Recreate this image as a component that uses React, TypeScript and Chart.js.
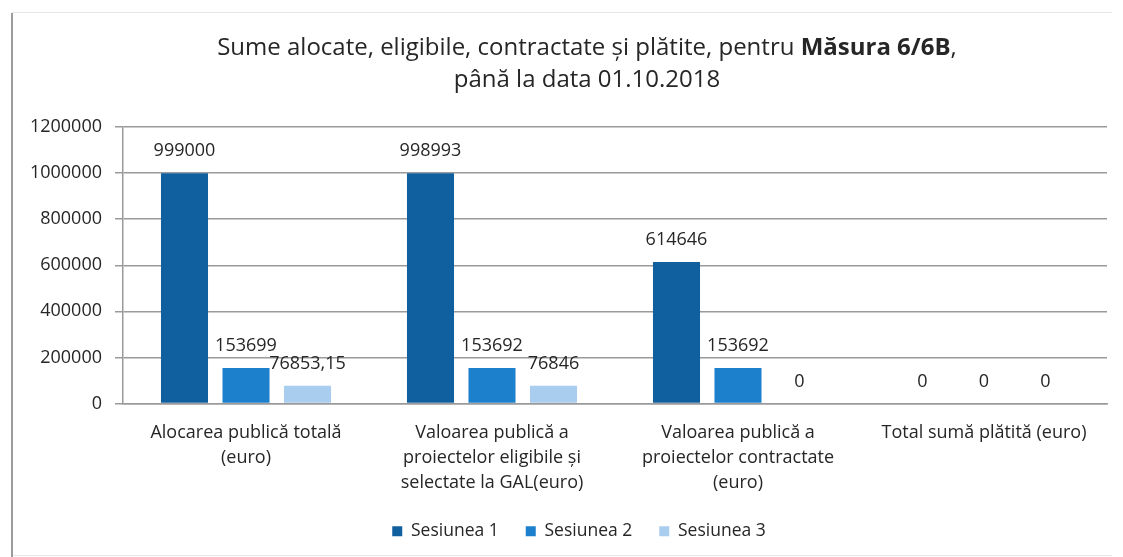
import React, { useEffect, useRef } from 'react';
import { Chart, registerables } from 'chart.js';

Chart.register(...registerables);

const categories: string[][] = [
  ['Alocarea publică totală', '(euro)'],
  ['Valoarea publică a', 'proiectelor eligibile și', 'selectate la GAL(euro)'],
  ['Valoarea publică a', 'proiectelor contractate', '(euro)'],
  ['Total sumă plătită (euro)'],
];
const seriesNames = ['Sesiunea 1', 'Sesiunea 2', 'Sesiunea 3'];
const sesiunea1 = [999000, 998993, 614646, 0];
const sesiunea2 = [153699, 153692, 153692, 0];
const sesiunea3 = [76853.15, 76846, 0, 0];
const yMin = 0;
const yMax = 1200000;
const yStep = 200000;
const titleNormal1 = 'Sume alocate, eligibile, contractate și plătite, pentru ';
const titleBold = 'Măsura 6/6B';
const titleNormal2 = ',';
const titleLine2 = 'până la data 01.10.2018';

const colors = ['#105f9f', '#1d80cc', '#a9cdee'];
const FONT = "'Open Sans', sans-serif";
const TEXT = '#262626';
const GRID = '#9a9a9a';

const fmt = (v: number) => String(v).replace('.', ',');

const framePlugin = {
  id: 'frame',
  beforeDraw(chart: any) {
    const ctx = chart.ctx;
    ctx.save();
    ctx.fillStyle = '#ffffff';
    ctx.fillRect(0, 0, chart.width, chart.height);
    ctx.strokeStyle = '#e6e6e6';
    ctx.lineWidth = 1;
    ctx.beginPath();
    ctx.moveTo(12, 12.5);
    ctx.lineTo(1112, 12.5);
    ctx.moveTo(12, 555.5);
    ctx.lineTo(1112, 555.5);
    ctx.stroke();
    ctx.strokeStyle = '#9c9c9c';
    ctx.lineWidth = 2;
    ctx.beginPath();
    ctx.moveTo(12, 13);
    ctx.lineTo(12, 557);
    ctx.stroke();
    ctx.restore();
  },
};

const titlePlugin = {
  id: 'mixedTitle',
  afterDraw(chart: any) {
    const ctx = chart.ctx;
    const cx = 587;
    const size = 24;
    ctx.save();
    ctx.fillStyle = TEXT;
    ctx.textBaseline = 'middle';
    ctx.textAlign = 'left';
    const nFont = `normal ${size}px ${FONT}`;
    const bFont = `bold ${size}px ${FONT}`;
    ctx.font = nFont;
    const w1 = ctx.measureText(titleNormal1).width;
    const w3 = ctx.measureText(titleNormal2).width;
    ctx.font = bFont;
    const w2 = ctx.measureText(titleBold).width;
    let x = cx - (w1 + w2 + w3) / 2;
    const y1 = 48;
    ctx.font = nFont;
    ctx.fillText(titleNormal1, x, y1);
    x += w1;
    ctx.font = bFont;
    ctx.fillText(titleBold, x, y1);
    x += w2;
    ctx.font = nFont;
    ctx.fillText(titleNormal2, x, y1);
    ctx.textAlign = 'center';
    ctx.fillText(titleLine2, cx, 80);
    ctx.restore();
  },
};

const valueLabelPlugin = {
  id: 'valueLabels',
  afterDatasetsDraw(chart: any) {
    const ctx = chart.ctx;
    ctx.save();
    ctx.fillStyle = TEXT;
    ctx.font = `normal 18px ${FONT}`;
    ctx.textAlign = 'center';
    ctx.textBaseline = 'middle';
    chart.data.datasets.forEach((ds: any, di: number) => {
      const meta = chart.getDatasetMeta(di);
      meta.data.forEach((el: any, i: number) => {
        ctx.fillText(fmt(ds.data[i]), el.x, el.y - 22);
      });
    });
    ctx.restore();
  },
};

export default function App() {
  const ref = useRef<HTMLCanvasElement | null>(null);
  useEffect(() => {
    if (!ref.current) return;
    const font = { family: FONT, size: 18 };
    const chart = new Chart(ref.current, {
      type: 'bar',
      data: {
        labels: categories,
        datasets: [sesiunea1, sesiunea2, sesiunea3].map((d, i) => ({
          label: seriesNames[i],
          data: d,
          backgroundColor: colors[i],
          borderWidth: 0,
          categoryPercentage: 0.75,
          barPercentage: 0.765,
        })),
      },
      options: {
        responsive: false,
        animation: false,
        layout: { padding: { left: 28, right: 0, top: 127, bottom: 7 } },
        plugins: {
          title: { display: false },
          tooltip: { enabled: false },
          legend: {
            position: 'bottom',
            labels: {
              boxWidth: 10,
              boxHeight: 10,
              padding: 27,
              color: TEXT,
              font: { family: FONT, size: 17.5 },
            },
          },
        },
        scales: {
          x: {
            grid: { display: false, drawTicks: false },
            border: { display: true, color: GRID, width: 1.5 },
            ticks: {
              color: TEXT,
              font: { ...font, lineHeight: 1.39 },
              padding: 16.5,
              maxRotation: 0,
              autoSkip: false,
            },
            afterFit: (s: any) => {
              s.height = 92;
            },
          },
          y: {
            min: yMin,
            max: yMax,
            ticks: {
              stepSize: yStep,
              color: TEXT,
              font,
              padding: 13,
              callback: (v: any) => String(v),
            },
            grid: { color: GRID, lineWidth: 1.5, tickLength: 8, drawTicks: true },
            border: { display: true, color: GRID, width: 1.5 },
            afterFit: (s: any) => {
              s.width = 95;
            },
          },
          spacer: {
            type: 'linear',
            position: 'right',
            display: true,
            grid: { display: false },
            border: { display: false },
            ticks: { display: false },
            afterFit: (s: any) => {
              s.width = 23;
            },
          },
        },
      },
      plugins: [framePlugin, titlePlugin, valueLabelPlugin],
    } as any);
    return () => chart.destroy();
  }, []);
  return (
    <div style={{ position: 'fixed', left: 0, top: 0, width: 1123, height: 557, overflow: 'hidden', background: '#fff' }}>
      <canvas ref={ref} width={1130} height={557} style={{ display: 'block', width: 1130, height: 557 }} />
    </div>
  );
}
